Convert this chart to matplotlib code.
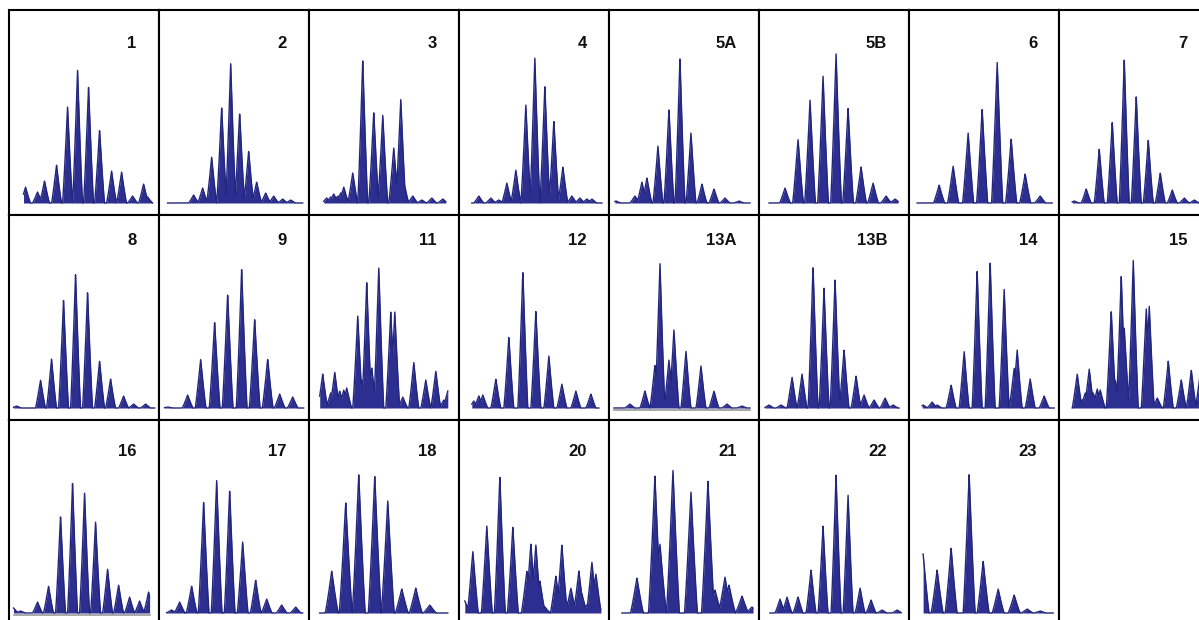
import numpy as np
import matplotlib
matplotlib.use("Agg")
import matplotlib.pyplot as plt

# panel names in reading order (row by row)
names = ["1", "2", "3", "4", "5A", "5B", "6", "7",
         "8", "9", "11", "12", "13A", "13B", "14", "15",
         "16", "17", "18", "20", "21", "22", "23"]

# peak positions (channel) and heights for every panel
pos_1 = [17, 29, 36, 48, 59, 69, 80, 91, 103, 113, 124, 135, 139]
amp_1 = [16, 11, 22, 38, 96, 133, 116, 73, 32, 31, 7, 19, 6]
pos_2 = [35, 44, 53, 63, 72, 81, 90, 98, 107, 115, 124, 132]
amp_2 = [8, 15, 46, 96, 141, 90, 52, 21, 10, 7, 4, 3]
pos_3 = [18, 22, 25, 29, 32, 35, 44, 54, 65, 74, 85, 92, 95, 104, 113, 123, 134]
amp_3 = [5, 6, 9, 7, 10, 16, 30, 143, 91, 88, 55, 104, 22, 7, 3, 5, 4]
pos_4 = [20, 32, 40, 48, 57, 67, 76, 86, 95, 104, 113, 121, 128, 133]
amp_4 = [7, 5, 3, 20, 33, 98, 145, 117, 82, 36, 7, 5, 4, 4]
pos_5A = [7, 26, 33, 38, 49, 60, 71, 82, 93, 105, 116, 130]
amp_5A = [2, 7, 21, 25, 57, 94, 145, 70, 19, 14, 5, 2]
pos_5B = [26, 39, 51, 64, 77, 89, 102, 114, 127, 136]
amp_5B = [15, 64, 103, 127, 150, 95, 36, 20, 7, 4]
pos_6 = [30, 44, 59, 73, 88, 102, 116, 131]
amp_6 = [18, 37, 70, 94, 142, 64, 29, 7]
pos_7 = [15, 27, 40, 53, 65, 77, 89, 101, 113, 125, 135]
amp_7 = [2, 14, 54, 81, 144, 107, 63, 30, 13, 5, 3]
pos_8 = [8, 32, 43, 55, 67, 79, 91, 102, 115, 125, 137]
amp_8 = [2, 28, 49, 108, 134, 116, 47, 29, 12, 4, 4]
pos_9 = [9, 29, 42, 56, 69, 83, 96, 109, 121, 134]
amp_9 = [1, 13, 49, 86, 114, 139, 89, 49, 14, 11]
pos_11 = [14, 22, 26, 31, 35, 38, 49, 53, 58, 63, 70, 82, 86, 94, 105, 117, 127, 135, 139]
amp_11 = [34, 15, 36, 17, 18, 20, 92, 28, 126, 40, 141, 96, 97, 11, 46, 28, 37, 8, 17]
pos_12 = [15, 20, 24, 37, 50, 64, 77, 90, 103, 117, 132]
amp_12 = [7, 12, 13, 29, 71, 137, 97, 52, 24, 17, 14]
pos_13A = [21, 36, 46, 51, 60, 65, 77, 92, 105, 118, 133]
amp_13A = [4, 17, 43, 146, 48, 78, 57, 42, 17, 4, 2]
pos_13B = [10, 22, 33, 43, 54, 65, 76, 85, 97, 105, 115, 126, 134]
amp_13B = [3, 3, 31, 34, 142, 120, 129, 58, 32, 13, 8, 10, 3]
pos_14 = [14, 23, 28, 42, 55, 68, 81, 95, 105, 108, 121, 135]
amp_14 = [3, 6, 3, 23, 57, 138, 146, 119, 40, 58, 29, 12]
pos_15 = [18, 23, 26, 30, 34, 38, 41, 52, 56, 62, 65, 74, 87, 90, 98, 109, 122, 132, 141]
amp_15 = [34, 8, 15, 39, 15, 19, 18, 97, 28, 132, 80, 148, 100, 102, 10, 47, 28, 38, 35]
pos_16 = [5, 12, 29, 40, 52, 64, 76, 87, 99, 110, 121, 131, 140]
amp_16 = [5, 2, 11, 27, 97, 130, 120, 91, 44, 28, 16, 12, 21]
pos_17 = [13, 21, 33, 45, 58, 71, 84, 97, 108, 123, 137]
amp_17 = [3, 11, 27, 111, 133, 123, 71, 33, 14, 8, 6]
pos_18 = [23, 37, 50, 66, 79, 93, 107, 121]
amp_18 = [42, 111, 139, 137, 112, 24, 25, 8]
pos_20 = [6, 14, 28, 41, 54, 68, 72, 77, 81, 86, 97, 103, 107, 112, 120, 123, 128, 133, 137, 141]
amp_20 = [12, 62, 87, 137, 86, 42, 69, 68, 32, 6, 37, 68, 13, 25, 42, 19, 8, 51, 39, 5]
pos_21 = [28, 46, 51, 64, 82, 99, 106, 116, 120, 133, 143]
amp_21 = [35, 137, 69, 143, 122, 132, 23, 36, 28, 17, 6]
pos_22 = [21, 28, 39, 52, 64, 77, 89, 101, 112, 123, 138]
amp_22 = [14, 16, 16, 43, 87, 138, 118, 25, 13, 3, 3]
pos_23 = [14, 28, 42, 60, 74, 89, 105, 118, 131]
amp_23 = [59, 43, 65, 139, 52, 24, 18, 4, 2]

# channel range covered by each trace
spans = [(15, 144), (9, 144), (15, 137), (13, 143), (6, 141), (10, 139), (8, 143), (13, 145),
         (5, 146), (6, 145), (11, 139), (13, 140), (5, 141), (6, 140), (13, 145), (13, 150),
         (5, 141), (8, 144), (11, 139), (6, 142), (13, 144), (11, 142), (14, 144)]

peaks = [(pos_1, amp_1), (pos_2, amp_2), (pos_3, amp_3), (pos_4, amp_4),
         (pos_5A, amp_5A), (pos_5B, amp_5B), (pos_6, amp_6), (pos_7, amp_7),
         (pos_8, amp_8), (pos_9, amp_9), (pos_11, amp_11), (pos_12, amp_12),
         (pos_13A, amp_13A), (pos_13B, amp_13B), (pos_14, amp_14), (pos_15, amp_15),
         (pos_16, amp_16), (pos_17, amp_17), (pos_18, amp_18), (pos_20, amp_20),
         (pos_21, amp_21), (pos_22, amp_22), (pos_23, amp_23)]

# peak half-base per panel (style only)
width = {"18": 6.5, "20": 5.5, "21": 6.5, "23": 6.0, "5B": 5.4, "6": 5.6, "9": 5.4, "17": 5.4}
grey_base = {"13A", "16"}

W, H = 1199, 620
fig = plt.figure(figsize=(W / 100, H / 100), dpi=100)
fig.patch.set_facecolor("white")

x0, y0, cw, rh = 8.5, 10, 150.1, 205
label_off = [34, 26, 32]
fill_c = "#2c2f90"

def trace(xs, p, a, b):
	# triangular peaks, slightly rounded at the foot
	y = np.zeros_like(xs)
	for pk, h in zip(p, a):
		u = np.clip(1 - np.abs(xs - pk) / b, 0, None)
		y = np.maximum(y, h * u ** 1.15)
	return y

for row in range(3):
	for col in range(8):
		k = row * 8 + col
		left = x0 + col * cw
		top = y0 + row * rh
		ax = fig.add_axes([left / W, 1 - (top + rh) / H, cw / W, rh / H])
		ax.set_xlim(0, 150)
		ax.set_ylim(-12, 193)
		ax.set_xticks([])
		ax.set_yticks([])
		for s in ax.spines.values():
			s.set_color("black")
			s.set_linewidth(1.5)
		if k >= len(names):
			continue
		name = names[k]
		p, a = peaks[k]
		a0, a1 = spans[k]
		xs = np.linspace(a0, a1, 1200)
		ys = trace(xs, p, a, width.get(name, 5.0))
		if name in grey_base:
			ax.plot([a0, a1], [-1.5, -1.5], color="#999999", lw=1.2)
		ax.fill_between(xs, 0, ys, color=fill_c, lw=0)
		ax.plot(xs, ys, color="#23267d", lw=1.0)
		ax.text(128, 193 - label_off[row], name, ha="right", va="center",
				fontsize=12, fontweight="bold", family="Liberation Sans", color="#111111")

fig.savefig("out.png", dpi=100)
